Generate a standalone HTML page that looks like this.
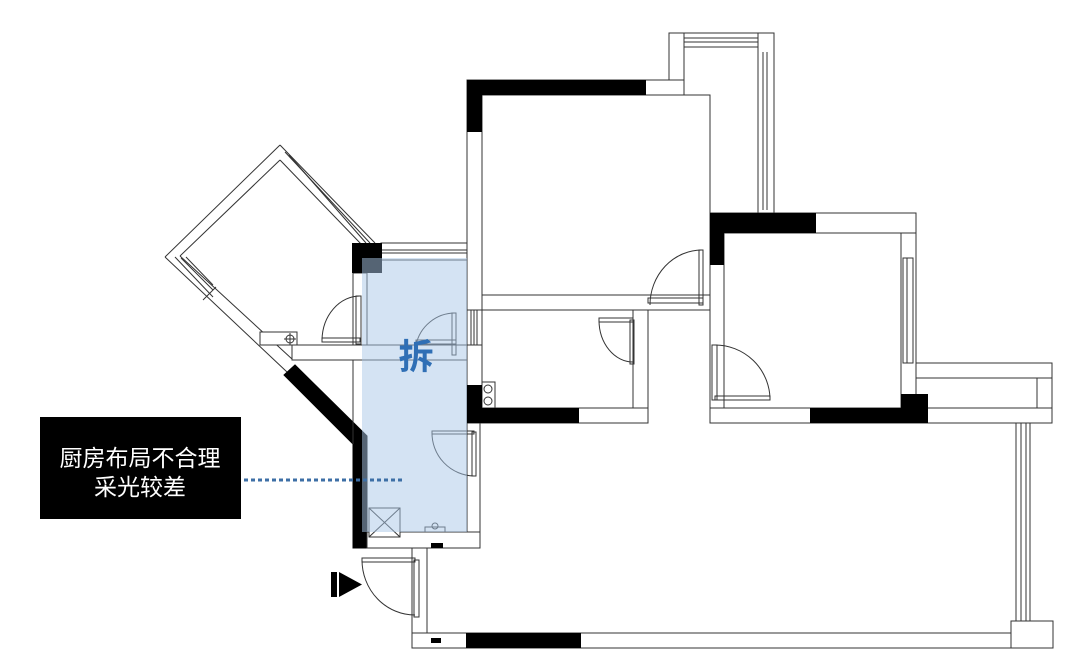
<!DOCTYPE html>
<html><head><meta charset="utf-8"><style>
html,body{margin:0;padding:0;background:#fff;}
svg{display:block;}
</style></head><body>
<svg width="1080" height="667" viewBox="0 0 1080 667" xmlns="http://www.w3.org/2000/svg">
<rect width="1080" height="667" fill="#fff"/>
<g fill="none" stroke="#333" stroke-width="1">
<!-- diagonal balcony -->
<line x1="280" y1="145" x2="165" y2="257"/>
<line x1="280" y1="160" x2="180" y2="256"/>
<line x1="280" y1="145" x2="375" y2="243"/>
<line x1="280" y1="160" x2="362" y2="245"/>
<line x1="285" y1="152" x2="370" y2="243"/>
<line x1="289" y1="155" x2="366" y2="243"/>
<line x1="165" y1="257" x2="287" y2="372"/>
<line x1="180" y1="256" x2="292" y2="359"/>
<line x1="175" y1="257" x2="213" y2="297"/>
<line x1="181" y1="258" x2="213" y2="290"/>
<line x1="186" y1="257" x2="213" y2="285"/>
<line x1="203" y1="300" x2="216" y2="287"/>
<!-- black diagonal -->
<polygon points="284,375 295,365 367,436 367,548 353,548 353,444" fill="#000" stroke="#000"/>
<!-- kitchen walls -->
<rect x="381" y="243" width="86" height="17" fill="#fff"/>
<line x1="381" y1="250" x2="467" y2="250"/>
<line x1="381" y1="253" x2="467" y2="253"/>
<rect x="353" y="273" width="14" height="72" fill="#fff"/>
<line x1="353" y1="360" x2="353" y2="444"/>
<!-- horizontal wall -->
<rect x="292" y="345" width="175" height="15" fill="#fff"/>
<rect x="260" y="332" width="37" height="13" fill="#fff"/>
<circle cx="290" cy="339" r="4"/>
<line x1="284" y1="339" x2="296" y2="339"/><line x1="290" y1="333" x2="290" y2="345"/>
<!-- kitchen bottom -->
<rect x="367" y="532" width="113" height="16" fill="#fff"/>
<rect x="467" y="423" width="13" height="109" fill="#fff"/>
<!-- bedroom 1 -->
<rect x="467" y="80" width="15" height="343" fill="#fff"/>
<rect x="482" y="95" width="228" height="200" fill="#fff"/>
<rect x="467" y="80" width="217" height="15" fill="#fff"/>
<rect x="482" y="295" width="228" height="15" fill="#fff"/>
<rect x="467" y="310" width="15" height="35"/>
<line x1="471" y1="310" x2="471" y2="345"/><line x1="474" y1="310" x2="474" y2="345"/><line x1="477" y1="310" x2="477" y2="345"/>
<!-- balcony top -->
<rect x="669" y="33" width="105" height="14" fill="#fff"/>
<rect x="669" y="33" width="15" height="47" fill="#fff"/>
<rect x="758" y="33" width="16" height="180" fill="#fff"/>
<line x1="684" y1="38" x2="758" y2="38"/><line x1="684" y1="42" x2="758" y2="42"/>
<line x1="763" y1="52" x2="763" y2="210"/><line x1="767" y1="52" x2="767" y2="210"/>
<!-- small room -->
<rect x="482" y="310" width="151" height="98" fill="#fff"/>
<rect x="633" y="310" width="15" height="113" fill="#fff"/>
<rect x="467" y="408" width="181" height="15" fill="#fff"/>
<rect x="482" y="382" width="13" height="26" fill="#fff"/>
<circle cx="488" cy="389" r="4"/><circle cx="488" cy="401" r="4"/>
<!-- right bedroom -->
<rect x="710" y="213" width="206" height="20" fill="#fff"/>
<rect x="710" y="233" width="14" height="190" fill="#fff"/>
<rect x="901" y="233" width="15" height="175" fill="#fff"/>
<rect x="903" y="258" width="10" height="105"/>
<line x1="907" y1="258" x2="907" y2="363"/>
<rect x="710" y="408" width="342" height="15" fill="#fff"/>
<rect x="916" y="363" width="136" height="45" fill="#fff"/>
<rect x="916" y="363" width="136" height="15"/>
<rect x="1037" y="378" width="15" height="30"/>
<!-- living room -->
<rect x="412" y="633" width="641" height="15" fill="#fff"/>
<rect x="412" y="548" width="15" height="85" fill="#fff"/>
<rect x="1011" y="621" width="42" height="27" fill="#fff"/>
<line x1="1016" y1="423" x2="1016" y2="621"/><line x1="1021" y1="423" x2="1021" y2="621"/><line x1="1026" y1="423" x2="1026" y2="621"/><line x1="1030" y1="423" x2="1030" y2="621"/>
<!-- doors -->
<path d="M650 305 A52 55 0 0 1 702 250"/><rect x="699" y="250" width="4" height="55"/><rect x="648" y="298" width="55" height="5"/>
<path d="M599 320 A34 42 0 0 0 633 362"/><rect x="599" y="318" width="34" height="4"/><rect x="630" y="320" width="4" height="44"/>
<path d="M770 398 A55 55 0 0 0 715 345"/><rect x="712" y="345" width="5" height="55"/><rect x="715" y="396" width="55" height="4"/>
<path d="M322 340 A38 45 0 0 1 360 296"/><rect x="356" y="296" width="5" height="48"/><rect x="322" y="338" width="38" height="4"/>
<path d="M416 345 A40 40 0 0 1 455 313"/><rect x="452" y="313" width="4" height="42"/><rect x="416" y="340" width="40" height="4"/>
<path d="M432 432 A43 43 0 0 0 474 476"/><rect x="432" y="431" width="42" height="3"/><rect x="472" y="432" width="4" height="44"/>
<path d="M362 560 A53 55 0 0 0 415 615"/><rect x="362" y="558" width="53" height="4"/><rect x="414" y="560" width="5" height="57"/>
<!-- fixtures -->
<rect x="369" y="508" width="31" height="29" fill="#fff"/>
<line x1="369" y1="508" x2="400" y2="537"/><line x1="400" y1="508" x2="369" y2="537"/>
<rect x="425" y="527" width="20" height="5"/><circle cx="435" cy="526" r="3"/>
</g>
<!-- black walls -->
<g fill="#000">
<rect x="467" y="80" width="179" height="15"/>
<rect x="467" y="80" width="15" height="52"/>
<rect x="710" y="213" width="106" height="20"/>
<rect x="710" y="213" width="14" height="52"/>
<rect x="810" y="408" width="118" height="15"/>
<rect x="901" y="394" width="27" height="29"/>
<rect x="467" y="408" width="112" height="15"/>
<rect x="467" y="385" width="15" height="38"/>
<rect x="466" y="633" width="115" height="15"/>
<rect x="352" y="243" width="30" height="30"/>
<rect x="431" y="543" width="12" height="5"/>
<rect x="431" y="638" width="10" height="5"/>
<rect x="331" y="572" width="6" height="25"/>
<polygon points="339,572 362,584.5 339,597"/>
</g>
<!-- blue kitchen overlay -->
<rect x="362" y="258" width="105" height="274" fill="#a9c8e8" fill-opacity="0.5"/>
<text x="416" y="369" font-family="Liberation Sans, 'Noto Sans CJK SC', sans-serif" font-size="35" font-weight="bold" fill="#2f6fb5" text-anchor="middle">拆</text>
<!-- label -->
<rect x="40" y="417" width="201" height="102" fill="#000"/>
<text x="140" y="466" font-family="Liberation Sans, 'Noto Sans CJK SC', sans-serif" font-size="23" fill="#fff" text-anchor="middle">厨房布局不合理</text>
<text x="140" y="495" font-family="Liberation Sans, 'Noto Sans CJK SC', sans-serif" font-size="23" fill="#fff" text-anchor="middle">采光较差</text>
<line x1="244" y1="480" x2="402" y2="480" stroke="#3d6fa6" stroke-width="3" stroke-dasharray="4 3"/>
</svg>
</body></html>
